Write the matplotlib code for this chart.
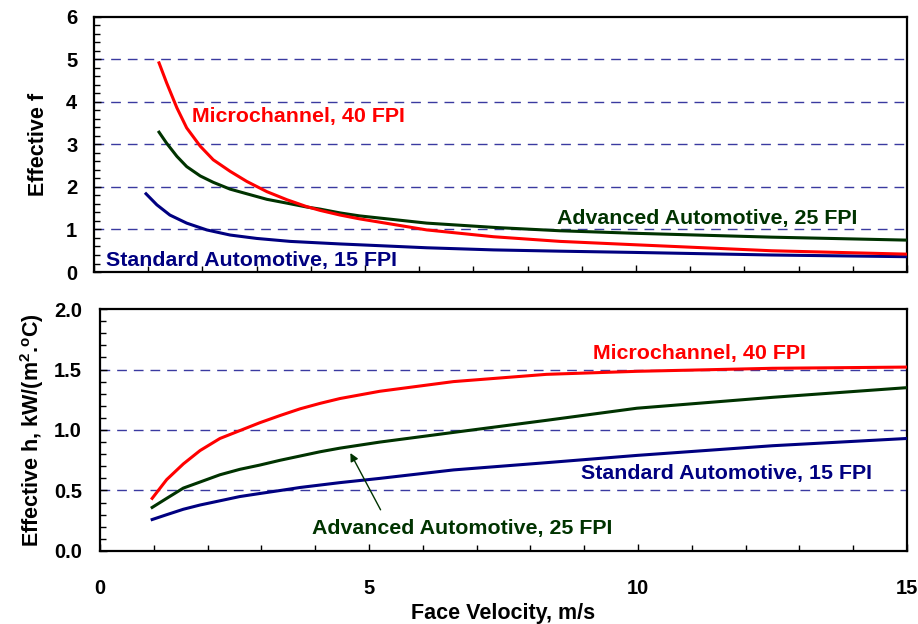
import matplotlib
matplotlib.use("Agg")
import matplotlib.pyplot as plt
from matplotlib.ticker import MultipleLocator, FormatStrFormatter

plt.rcParams['font.family'] = ['Liberation Sans', 'DejaVu Sans']
plt.rcParams['font.weight'] = 'bold'
plt.rcParams['mathtext.fontset'] = 'custom'
plt.rcParams['mathtext.rm'] = 'Liberation Sans:bold'
plt.rcParams['mathtext.default'] = 'rm'

RED = '#ff0000'
GREEN = '#003300'
BLUE = '#000080'
GRID = '#3a3aa0'

# Effective f (top panel)
micro_f_x = [1.2, 1.34, 1.53, 1.71, 1.96, 2.2, 2.51, 2.82, 3.19, 3.56, 3.92, 4.17, 4.54, 4.9,
             6.14, 7.37, 8.6, 10.0, 12.5, 15.0]
micro_f_y = [4.92, 4.45, 3.86, 3.39, 2.96, 2.64, 2.37, 2.13, 1.89, 1.70, 1.54, 1.45, 1.34, 1.25,
             0.99, 0.83, 0.72, 0.64, 0.50, 0.42]
adv_f_x = [1.2, 1.34, 1.53, 1.71, 1.96, 2.2, 2.51, 2.82, 3.19, 3.56, 3.92, 4.17, 4.54, 4.9,
           6.14, 7.37, 8.6, 10.0, 12.5, 15.0]
adv_f_y = [3.29, 3.03, 2.72, 2.48, 2.26, 2.11, 1.95, 1.84, 1.71, 1.62, 1.53, 1.48, 1.39, 1.32,
           1.15, 1.05, 0.97, 0.91, 0.82, 0.75]
std_f_x = [0.96, 1.16, 1.40, 1.71, 2.08, 2.51, 3.0, 3.62, 4.54, 4.9, 6.14, 7.37, 8.6, 10.0, 12.5, 15.0]
std_f_y = [1.84, 1.58, 1.34, 1.15, 0.99, 0.87, 0.79, 0.72, 0.66, 0.64, 0.57, 0.52, 0.49, 0.46, 0.40, 0.36]

# Effective h (bottom panel)
micro_h_x = [0.97, 1.24, 1.55, 1.86, 2.23, 2.6, 2.97, 3.35, 3.72, 4.09, 4.46, 5.2, 6.57, 8.3, 9.98, 12.5, 15.0]
micro_h_y = [0.435, 0.59, 0.72, 0.83, 0.93, 0.995, 1.06, 1.12, 1.175, 1.22, 1.26, 1.32, 1.40, 1.46, 1.485, 1.51, 1.52]
adv_h_x = [0.97, 1.24, 1.55, 1.86, 2.23, 2.6, 2.97, 3.35, 3.72, 4.09, 4.46, 5.2, 6.57, 8.3, 9.98, 12.5, 15.0]
adv_h_y = [0.36, 0.435, 0.52, 0.57, 0.63, 0.675, 0.71, 0.75, 0.785, 0.82, 0.85, 0.90, 0.98, 1.08, 1.18, 1.27, 1.35]
std_h_x = [0.97, 1.24, 1.55, 1.86, 2.23, 2.6, 2.97, 3.35, 3.72, 4.09, 4.46, 5.2, 6.57, 8.3, 9.98, 12.5, 15.0]
std_h_y = [0.26, 0.30, 0.345, 0.38, 0.415, 0.45, 0.475, 0.50, 0.525, 0.545, 0.565, 0.60, 0.67, 0.73, 0.79, 0.87, 0.93]

fig = plt.figure(figsize=(9.18, 6.24), dpi=100)
ax1 = fig.add_axes([0.1024, 0.5641, 0.8856, 0.4087])
ax2 = fig.add_axes([0.1089, 0.117, 0.8791, 0.3878])

dash = (0, (7, 5))


def style(ax):
    for s in ax.spines.values():
        s.set_linewidth(1.6)
    ax.set_xlim(0, 15)
    ax.xaxis.set_major_locator(MultipleLocator(5))
    ax.xaxis.set_minor_locator(MultipleLocator(1))
    ax.tick_params(which='both', direction='in', top=False, right=False,
                   width=1.0, color='black')
    ax.tick_params(which='major', length=5, labelsize=14.5)
    ax.tick_params(which='minor', length=4)


# top panel
style(ax1)
ax1.set_ylim(0, 6)
ax1.yaxis.set_major_locator(MultipleLocator(1))
ax1.yaxis.set_minor_locator(MultipleLocator(0.2))
ax1.tick_params(axis='x', labelbottom=False)
ax1.tick_params(axis='y', pad=12)
for g in [1, 2, 3, 4, 5]:
    ax1.axhline(g, color=GRID, lw=1, linestyle=dash, zorder=1)
ax1.plot(std_f_x, std_f_y, color=BLUE, lw=2.2, zorder=3, solid_joinstyle='round')
ax1.plot(adv_f_x, adv_f_y, color=GREEN, lw=2.2, zorder=3, solid_joinstyle='round')
ax1.plot(micro_f_x, micro_f_y, color=RED, lw=2.2, zorder=3, solid_joinstyle='round')
ax1.set_ylabel('Effective f', fontsize=15.5, fontweight='bold', labelpad=12)
ax1.text(1.8, 3.66, 'Microchannel, 40 FPI', color=RED, fontsize=15.4, fontweight='bold', va='center')
ax1.text(8.55, 1.27, 'Advanced Automotive, 25 FPI', color=GREEN, fontsize=15.4, fontweight='bold', va='center')
ax1.text(0.22, 0.28, 'Standard Automotive, 15 FPI', color=BLUE, fontsize=15.4, fontweight='bold', va='center')

# bottom panel
style(ax2)
ax2.set_ylim(0, 2)
ax2.yaxis.set_major_locator(MultipleLocator(0.5))
ax2.yaxis.set_minor_locator(MultipleLocator(0.1))
ax2.yaxis.set_major_formatter(FormatStrFormatter('%.1f'))
ax2.tick_params(axis='y', pad=13)
ax2.tick_params(axis='x', pad=20)
for g in [0.5, 1.0, 1.5]:
    ax2.axhline(g, color=GRID, lw=1, linestyle=dash, zorder=1)
ax2.plot(std_h_x, std_h_y, color=BLUE, lw=2.2, zorder=3, solid_joinstyle='round')
ax2.plot(adv_h_x, adv_h_y, color=GREEN, lw=2.2, zorder=3, solid_joinstyle='round')
ax2.plot(micro_h_x, micro_h_y, color=RED, lw=2.2, zorder=3, solid_joinstyle='round')
ax2.set_ylabel(r'Effective h, kW/(m$^{2}$.$^{o}$C)', fontsize=15.5, fontweight='bold', labelpad=6)
ax2.set_xlabel('Face Velocity, m/s', fontsize=15.5, fontweight='bold', labelpad=4)
ax2.text(9.16, 1.63, 'Microchannel, 40 FPI', color=RED, fontsize=15.4, fontweight='bold', va='center')
ax2.text(8.94, 0.64, 'Standard Automotive, 15 FPI', color=BLUE, fontsize=15.4, fontweight='bold', va='center')
ax2.text(3.94, 0.19, 'Advanced Automotive, 25 FPI', color=GREEN, fontsize=15.4, fontweight='bold', va='center')
ax2.annotate('', xy=(4.63, 0.83), xytext=(5.24, 0.32),
             arrowprops=dict(arrowstyle='-|>', color=GREEN, lw=1.0, mutation_scale=12))

fig.savefig('out.png', dpi=100)
